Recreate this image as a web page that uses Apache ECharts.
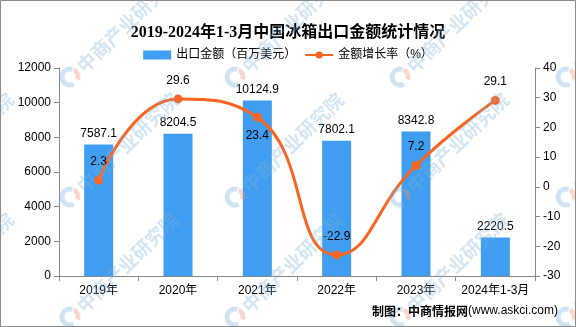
<!DOCTYPE html>
<html>
<head>
<meta charset="utf-8">
<script src="https://cdn.jsdelivr.net/npm/echarts@6/dist/echarts.min.js"></script>
<style>
  html, body { margin: 0; padding: 0; background: #fff; }
  #chart { width: 576px; height: 327px; }
</style>
</head>
<body>
<div id="chart"></div>
<script>
// Refrigerator exports: value (million USD) and year-on-year growth (%)
const categories = ['2019年', '2020年', '2021年', '2022年', '2023年', '2024年1-3月'];
const exportValue = [7587.1, 8204.5, 10124.9, 7802.1, 8342.8, 2220.5];
const growthRate = [2.3, 29.6, 23.4, -22.9, 7.2, 29.1];
// growth labels sit above the point, except where the bar label would collide
const growthLabelPos = ['top', 'top', 'bottom', 'top', 'top', 'top'];

const titleText = '2019-2024年1-3月中国冰箱出口金额统计情况';
const barName = '出口金额（百万美元）';
const lineName = '金额增长率（%）';
const sourceLead = '制图：中商情报网';
const sourceSite = '(www.askci.com)';
const watermarkText = '中商产业研究院';

const FONT = '"Liberation Sans", "Noto Sans CJK SC", sans-serif';
const BAR_COLOR = '#3f9ef1';
const LINE_COLOR = '#fa6420';
const AXIS_COLOR = '#8a8a8a';

// repeated brand watermark: logo ring + diagonal text
function watermark(cx, cy) {
  return [
    {
      type: 'arc', silent: true, z: 100,
      shape: { cx: cx, cy: cy, r: 8, startAngle: Math.PI * 0.35, endAngle: Math.PI * 1.6 },
      style: { stroke: 'rgba(120,175,220,0.35)', lineWidth: 5, fill: null }
    },
    {
      type: 'arc', silent: true, z: 100,
      shape: { cx: cx, cy: cy, r: 8, startAngle: Math.PI * 1.65, endAngle: Math.PI * 2.1 },
      style: { stroke: 'rgba(240,140,110,0.35)', lineWidth: 5, fill: null }
    },
    {
      type: 'text', silent: true, z: 100,
      x: cx + 10, y: cy - 8, rotation: 0.77,
      style: {
        text: watermarkText, x: 0, y: 0,
        font: 'bold 19px "Noto Sans CJK SC", sans-serif',
        fill: 'rgba(120,175,220,0.33)',
        align: 'left', verticalAlign: 'middle'
      }
    }
  ];
}

const wmGraphics = [];
[-95, 70, 235, 400, 566].forEach(function (x) {
  [77, 197, 317].forEach(function (y) {
    wmGraphics.push.apply(wmGraphics, watermark(x, y));
  });
});

const plainNumber = function (v) { return String(v); };

const chart = echarts.init(document.getElementById('chart'), null, { renderer: 'canvas' });

chart.setOption({
  backgroundColor: '#fff',
  animation: false,
  title: {
    text: titleText,
    left: 'center',
    top: 20,
    textStyle: {
      fontFamily: '"Liberation Serif", "Noto Sans CJK SC", serif',
      fontWeight: 'bold',
      fontSize: 16,
      color: '#000'
    }
  },
  legend: {
    top: 44,
    left: 'center',
    itemGap: 8,
    itemWidth: 28,
    itemHeight: 9,
    textStyle: { fontFamily: FONT, fontSize: 12, color: '#000' },
    data: [
      { name: barName, icon: 'rect' },
      { name: lineName }
    ]
  },
  grid: { left: 59, right: 41, top: 68, bottom: 51 },
  xAxis: {
    type: 'category',
    data: categories,
    axisLine: { lineStyle: { color: AXIS_COLOR } },
    axisTick: { show: true, length: 5, lineStyle: { color: AXIS_COLOR } },
    axisLabel: { fontFamily: FONT, fontSize: 12, color: '#000', margin: 9, interval: 0 }
  },
  yAxis: [
    {
      type: 'value', min: 0, max: 12000, interval: 2000,
      axisLine: { show: true, lineStyle: { color: AXIS_COLOR } },
      axisTick: { show: true, length: 5, lineStyle: { color: AXIS_COLOR } },
      axisLabel: { fontFamily: FONT, fontSize: 12, color: '#000', margin: 8, formatter: plainNumber },
      splitLine: { show: false }
    },
    {
      type: 'value', min: -30, max: 40, interval: 10,
      axisLine: { show: true, lineStyle: { color: AXIS_COLOR } },
      axisTick: { show: true, length: 5, lineStyle: { color: AXIS_COLOR } },
      axisLabel: { fontFamily: FONT, fontSize: 12, color: '#000', margin: 8, formatter: plainNumber },
      splitLine: { show: false }
    }
  ],
  series: [
    {
      name: barName,
      type: 'bar',
      data: exportValue,
      barWidth: 29,
      itemStyle: { color: BAR_COLOR },
      label: {
        show: true, position: 'top', distance: 5,
        fontFamily: FONT, fontSize: 12, color: '#000'
      }
    },
    {
      name: lineName,
      type: 'line',
      yAxisIndex: 1,
      data: growthRate.map(function (v, i) {
        return { value: v, label: { position: growthLabelPos[i] } };
      }),
      smooth: 0.5,
      symbol: 'circle',
      symbolSize: 9,
      lineStyle: { color: LINE_COLOR, width: 3 },
      itemStyle: { color: LINE_COLOR },
      label: {
        show: true, distance: 8,
        fontFamily: FONT, fontSize: 12, color: '#000'
      },
      z: 3
    }
  ],
  graphic: wmGraphics.concat([
    {
      type: 'text', silent: true, z: 101,
      right: 18, top: 305,
      style: {
        text: '{a|' + sourceLead + '}{b|' + sourceSite + '}',
        rich: {
          a: { font: 'bold 12px "Noto Sans CJK SC", sans-serif', fill: '#000' },
          b: { font: '12px "Liberation Sans", sans-serif', fill: '#000' }
        }
      }
    },
    {
      type: 'rect', silent: true, z: 102,
      shape: { x: 0.5, y: 0.5, width: 575, height: 326 },
      style: { fill: null, stroke: '#8c8c8c', lineWidth: 1 }
    }
  ])
});
</script>
</body>
</html>
